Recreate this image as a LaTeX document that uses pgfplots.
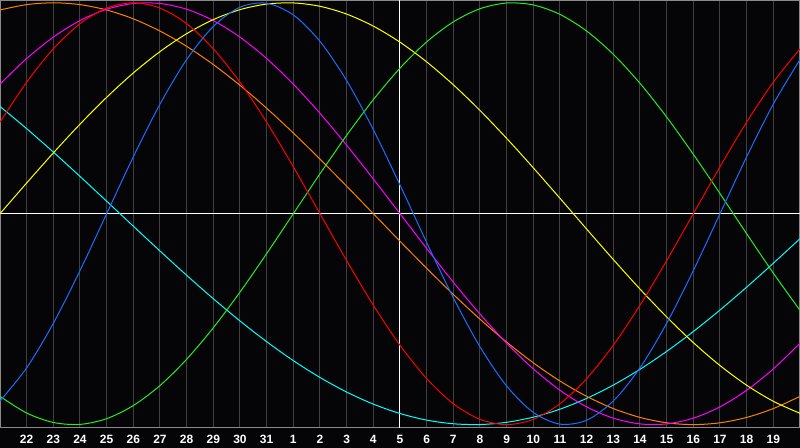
\documentclass[border=0pt]{standalone}
\usepackage{fontspec}
\setmainfont{Liberation Sans}
\usepackage{pgfplots}
\usepackage{pgfplotstable}
\pgfplotsset{compat=1.18}
\definecolor{bg}{HTML}{050508}
\definecolor{gridGray}{HTML}{404040}
\definecolor{frameGray}{HTML}{8A8A8A}
\definecolor{cPhy}{HTML}{1A6EFF}
\definecolor{cEmo}{HTML}{FF0000}
\definecolor{cInt}{HTML}{22EE22}
\definecolor{cIntu}{HTML}{FF00FF}
\definecolor{cAest}{HTML}{FFFF00}
\definecolor{cAwar}{HTML}{FF8000}
\definecolor{cSpir}{HTML}{00FFFF}

% one row per day, 22nd to the 20th of next month; values are the cycle levels
\pgfplotstableread{
x  phy     emo     int     intu    aest    awar    spir
0  -0.8879 0.4339  -0.8660 0.6142  0       0.9659  0.5085
1  -0.7308 0.6235  -0.9450 0.7357  0.1456  0.9914  0.4031
2  -0.5196 0.7818  -0.9898 0.8372  0.2881  1       0.2921
3  -0.2698 0.9010  -0.9989 0.9158  0.4245  0.9914  0.1769
4  0       0.9749  -0.9718 0.9694  0.5518  0.9659  0.0592
5  0.2698  1       -0.9096 0.9966  0.6673  0.9239  -0.0592
6  0.5196  0.9749  -0.8146 0.9966  0.7687  0.8660  -0.1769
7  0.7308  0.9010  -0.6901 0.9694  0.8536  0.7934  -0.2921
8  0.8879  0.7818  -0.5406 0.9158  0.9203  0.7071  -0.4031
9  0.9791  0.6235  -0.3717 0.8372  0.9675  0.6088  -0.5085
10 0.9977  0.4339  -0.1893 0.7357  0.9940  0.5     -0.6068
11 0.9423  0.2225  0       0.6142  0.9993  0.3827  -0.6966
12 0.8170  0       0.1893  0.4760  0.9834  0.2588  -0.7765
13 0.6311  -0.2225 0.3717  0.3247  0.9464  0.1305  -0.8456
14 0.3984  -0.4339 0.5406  0.1646  0.8894  0       -0.9028
15 0.1362  -0.6235 0.6901  0       0.8133  -0.1305 -0.9473
16 -0.1362 -0.7818 0.8146  -0.1646 0.7199  -0.2588 -0.9786
17 -0.3984 -0.9010 0.9096  -0.3247 0.6112  -0.3827 -0.9960
18 -0.6311 -0.9749 0.9718  -0.4760 0.4894  -0.5    -0.9996
19 -0.8170 -1      0.9989  -0.6142 0.3572  -0.6088 -0.9890
20 -0.9423 -0.9749 0.9898  -0.7357 0.2174  -0.7071 -0.9646
21 -0.9977 -0.9010 0.9450  -0.8372 0.0730  -0.7934 -0.9267
22 -0.9791 -0.7818 0.8660  -0.9158 -0.0730 -0.8660 -0.8757
23 -0.8879 -0.6235 0.7557  -0.9694 -0.2174 -0.9239 -0.8125
24 -0.7308 -0.4339 0.6182  -0.9966 -0.3572 -0.9659 -0.7378
25 -0.5196 -0.2225 0.4582  -0.9966 -0.4894 -0.9914 -0.6528
26 -0.2698 0       0.2817  -0.9694 -0.6112 -1      -0.5586
27 0       0.2225  0.0951  -0.9158 -0.7199 -0.9914 -0.4566
28 0.2698  0.4339  -0.0951 -0.8372 -0.8133 -0.9659 -0.3482
29 0.5196  0.6235  -0.2817 -0.7357 -0.8894 -0.9239 -0.2349
30 0.7308  0.7818  -0.4582 -0.6142 -0.9464 -0.8660 -0.1183
}\cycles

\begin{document}
\begin{tikzpicture}
\fill[bg] (0,0) rectangle (400pt,-224pt);
\begin{axis}[
  at={(0pt,-0.5pt)}, anchor=north west,
  scale only axis, width=400pt, height=213.5pt,
  xmin=0, xmax=30, ymin=-1.016, ymax=1.0085,
  axis line style={draw=frameGray, line width=0.5pt},
  axis background/.style={fill=bg},
  xtick={1,...,29},
  xticklabels={22,23,24,25,26,27,28,29,30,31,1,2,3,4,5,6,7,8,9,10,11,12,13,14,15,16,17,18,19},
  ytick=\empty,
  major tick length=0pt,
  xmajorgrids, grid style={draw=gridGray, line width=0.5pt},
  xticklabel style={font=\fontsize{6}{6}\selectfont\bfseries, text=white,
                    anchor=north, inner sep=0pt, yshift=-3.3pt},
  every axis plot/.append style={line width=0.5pt, mark=none},
]
% today marker and zero line
\addplot[white] coordinates {(15,-1.1) (15,1.1)};
\addplot[white] coordinates {(0,0) (30,0)};

\addplot[cSpir, smooth] table[x=x, y=spir] {\cycles};
\addplot[cAwar, smooth] table[x=x, y=awar] {\cycles};
\addplot[cIntu, smooth] table[x=x, y=intu] {\cycles};
\addplot[cAest, smooth] table[x=x, y=aest] {\cycles};
\addplot[cInt,  smooth] table[x=x, y=int]  {\cycles};
\addplot[cEmo,  smooth] table[x=x, y=emo]  {\cycles};
\addplot[cPhy,  smooth] table[x=x, y=phy]  {\cycles};
\end{axis}
\pgfresetboundingbox
\useasboundingbox (0,0) rectangle (400pt,-224pt);
\end{tikzpicture}
\end{document}
